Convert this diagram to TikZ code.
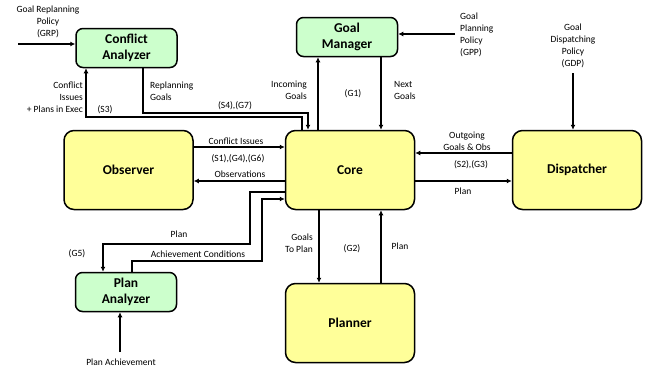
\documentclass[tikz,border=0pt]{standalone}
\usepackage{fontspec}
\setmainfont{Carlito}
\usetikzlibrary{arrows.meta}
\definecolor{boxyellow}{RGB}{255,255,153}
\definecolor{boxgreen}{RGB}{204,255,204}

\begin{document}
\begin{tikzpicture}[x=1pt,y=-1pt,
        box/.style={draw, line width=1.5pt, rounded corners=7pt, inner sep=0pt, align=center,
                font=\fontsize{13.5}{16}\selectfont\bfseries},
        bigbox/.style={box, fill=boxyellow, minimum width=129pt, minimum height=79pt, rounded corners=10pt},
        smallbox/.style={box, fill=boxgreen, minimum width=101pt, minimum height=39pt},
        flow/.style={line width=1.5pt, -{Latex[length=5pt,width=5pt]}},
        lbl/.style={inner sep=0pt, font=\fontsize{9.5}{12}\selectfont}]
    \useasboundingbox (0,0) rectangle (649,368);

    \foreach \name/\x/\y/\txt in {obs/128.5/170/Observer, core/350/170/Core,
            disp/577/170/Dispatcher, plnr/350/323/Planner} {
            \node[bigbox] (\name) at (\x,\y) {\txt};
        }
    \node[smallbox] (ca) at (126.5,48) {Conflict\\Analyzer};
    \node[smallbox] (gm) at (347,37) {Goal\\Manager};
    \node[smallbox] (pa) at (126,292) {Plan\\Analyzer};

    \coordinate (grp) at (18,44);
    \coordinate (s3) at (86,117);
    \coordinate (rg) at (143,113);
    \coordinate (gpp) at (455,34);
    \coordinate (gdp) at (573,73);
    \coordinate (pa1) at (250,244);
    \coordinate (pa2) at (103,244);
    \coordinate (ac1) at (132,261);
    \coordinate (ac2) at (262,261);
    \coordinate (pach) at (120,352);

    \draw[flow] (grp) -- (grp -| ca.west);
    \draw[flow] ([xshift=-48]core.north) |- (s3) -- (s3 |- ca.south);
    \draw[flow] (rg |- ca.south) -- (rg) -| ([xshift=-42]core.north);
    \draw[flow] ([xshift=-32]core.north) -- ([xshift=-32]core.north |- gm.south);
    \draw[flow] ([xshift=31]core.north |- gm.south) -- ([xshift=31]core.north);
    \draw[flow] (gpp) -- (gpp -| gm.east);
    \draw[flow] (gdp) -- (gdp |- disp.north);
    \draw[flow] ([yshift=23]obs.east) -- ([yshift=23]core.west);
    \draw[flow] ([yshift=-11]core.west) -- ([yshift=-11]obs.east);
    \draw[flow] ([yshift=17]disp.west) -- ([yshift=17]core.east);
    \draw[flow] ([yshift=-11]core.east) -- ([yshift=-11]disp.west);
    \draw[flow] ([xshift=-31]core.south) -- ([xshift=-31]plnr.north);
    \draw[flow] ([xshift=31]plnr.north) -- ([xshift=31]core.south);
    \draw[flow] ([yshift=-22]core.west) -| (pa1) -- (pa2) -- (pa2 |- pa.north);
    \draw[flow] (ac1 |- pa.north) -- (ac1) -- (ac2) |- ([yshift=-29]core.west);
    \draw[flow] (pach) -- (pach |- pa.south);

    \node[lbl, align=center] (lgrp) at (48,21.5) {Goal Replanning\\Policy\\(GRP)};
    \node[lbl, align=right, anchor=east] (lci) at (83,97.5) {Conflict\\Issues\\+ Plans in Exec};
    \node[lbl] (ls3) at (105,110) {(S3)};
    \node[lbl, align=left, anchor=west] (lrg) at (150,91) {Replanning\\Goals};
    \node[lbl] (ls4) at (235,106) {(S4),(G7)};
    \node[lbl, align=right, anchor=east] (lin) at (307,90) {Incoming\\Goals};
    \node[lbl] (lg1) at (353,94) {(G1)};
    \node[lbl, align=left, anchor=west] (lnx) at (394,90) {Next\\Goals};
    \node[lbl, align=left, anchor=west] (lgpp) at (460,35) {Goal\\Planning\\Policy\\(GPP)};
    \node[lbl, align=center] (lgdp) at (573,46) {Goal\\Dispatching\\Policy\\(GDP)};
    \node[lbl] (lcf) at (236,141) {Conflict Issues};
    \node[lbl] (ls1) at (238,159) {(S1),(G4),(G6)};
    \node[lbl] (lobs) at (240,174) {Observations};
    \node[lbl, align=center] (lout) at (467,141) {Outgoing\\Goals \& Obs};
    \node[lbl] (ls2) at (471,165) {(S2),(G3)};
    \node[lbl] (lpd) at (463,191) {Plan};
    \node[lbl, align=right, anchor=east] (lgtp) at (313,243) {Goals\\To Plan};
    \node[lbl] (lg2) at (352,249) {(G2)};
    \node[lbl] (lpp) at (400,246) {Plan};
    \node[lbl] (lpa) at (179,234) {Plan};
    \node[lbl] (lg5) at (77,254) {(G5)};
    \node[lbl] (lac) at (198,254) {Achievement Conditions};
    \node[lbl] (lpach) at (121,362) {Plan Achievement};
\end{tikzpicture}
\end{document}
